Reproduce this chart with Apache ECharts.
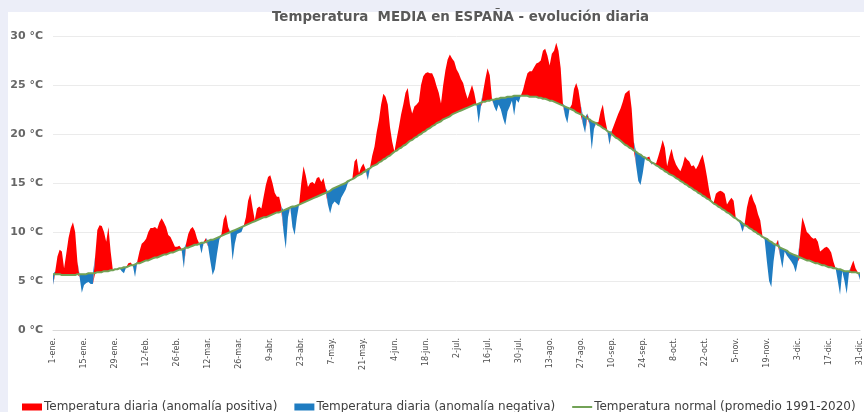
<!DOCTYPE html>
<html>
<head>
<meta charset="utf-8">
<script src="https://cdn.jsdelivr.net/npm/echarts@6/dist/echarts.min.js"></script>
<style>
html,body{margin:0;padding:0;}
#wrap{position:relative;width:864px;height:412px;background:#eceef8;overflow:hidden;}
#panel{position:absolute;left:8px;top:12px;width:856px;height:400px;background:#ffffff;}
#chart{position:absolute;left:0;top:0;width:864px;height:412px;}
</style>
</head>
<body>
<div id="wrap"><div id="panel"></div><div id="chart"></div></div>
<script>
// Month abbreviations and lengths (non-leap year) used for the daily categories
const monthNames = ['ene.','feb.','mar.','abr.','may.','jun.','jul.','ago.','sep.','oct.','nov.','dic.'];
const monthLengths = [31,28,31,30,31,30,31,31,30,31,30,31];
const labelEvery = 14;
const yTicks = [0,5,10,15,20,25,30];

// Daily mean temperature (°C), 1-ene .. 31-dic
const dailyTemp = [
4.6,6.0,7.5,8.2,8.0,6.3,7.8,9.4,10.4,11.0,
10.0,7.0,5.4,3.8,4.6,4.8,4.9,4.7,4.7,7.5,
10.2,10.7,10.6,10.0,9.0,10.5,8.0,6.1,6.2,6.2,
6.3,6.0,5.8,6.4,6.8,6.9,6.6,5.4,7.0,8.0,
8.8,9.0,9.3,10.0,10.4,10.4,10.5,10.3,11.0,11.4,
11.0,10.5,9.7,9.5,9.0,8.5,8.5,8.6,8.3,6.3,
8.8,9.8,10.3,10.5,10.1,9.3,8.8,7.8,9.0,9.4,
8.5,7.0,5.6,6.2,7.8,9.2,9.8,11.3,11.8,10.5,
9.9,7.1,8.8,9.8,9.9,10.0,10.6,11.5,13.2,13.9,
12.5,11.2,12.4,12.6,12.4,13.6,14.8,15.6,15.8,15.0,
14.0,13.6,13.6,12.6,10.0,8.3,11.5,12.6,10.5,9.7,
11.5,12.8,15.0,16.7,15.8,14.6,15.0,15.1,14.9,15.5,
15.6,15.1,15.5,14.5,12.8,11.9,12.8,13.1,12.9,12.7,
13.5,13.9,14.3,15.0,15.2,15.4,17.2,17.5,16.0,16.6,
17.0,16.4,15.3,16.6,17.8,18.7,20.2,21.4,23.0,24.1,
23.8,23.0,20.7,19.2,18.2,19.5,20.7,22.0,23.0,24.2,
24.7,23.0,22.1,22.8,23.0,23.3,25.0,25.9,26.2,26.3,
26.2,26.2,25.7,24.9,24.2,23.1,25.0,26.5,27.6,28.1,
27.7,27.4,26.6,26.2,25.6,25.2,24.3,23.6,24.3,25.0,
24.2,23.0,21.1,22.8,24.3,25.6,26.7,26.0,23.6,22.8,
22.3,23.0,22.5,21.6,20.9,22.3,22.8,23.4,21.9,23.5,
23.2,23.9,24.5,25.4,26.2,26.4,26.4,26.8,27.2,27.3,
27.5,28.5,28.7,28.0,27.0,28.2,28.5,29.3,28.5,26.7,
23.1,21.8,21.1,22.6,23.0,24.6,25.2,24.5,23.0,21.0,
20.1,22.1,21.0,18.4,20.5,21.2,21.2,22.3,23.0,21.5,
20.4,18.9,20.3,20.9,21.5,22.1,22.6,23.3,24.1,24.3,
24.5,22.6,19.2,16.8,15.2,14.8,16.0,17.5,17.6,17.7,
16.9,17.1,17.0,17.7,18.5,19.4,18.6,16.7,17.7,18.5,
17.5,16.9,16.5,16.2,16.8,17.7,17.4,17.2,16.7,16.8,
16.4,16.8,17.4,17.9,16.9,15.6,14.2,13.2,13.0,13.9,
14.1,14.2,14.1,13.9,12.8,13.2,13.5,13.2,11.4,11.2,
10.8,10.0,10.9,12.5,13.5,13.9,13.2,12.7,11.8,11.2,
9.6,9.2,7.0,5.0,4.4,7.0,8.7,9.2,7.5,6.3,
8.0,7.6,7.3,7.0,6.6,5.9,7.0,9.5,11.5,10.8,
10.0,9.8,9.5,9.3,9.4,9.0,8.0,8.2,8.4,8.5,
8.3,7.9,7.0,6.3,5.0,3.6,6.0,5.0,3.7,5.8,
6.5,7.1,6.3,5.9,5.1
];

// Normal daily temperature (promedio 1991-2020), °C
const normalTemp = [
5.7,5.7,5.7,5.7,5.6,5.6,5.6, 5.6,5.6,5.6,5.6,5.7,5.7,5.7,
5.7,5.7,5.8,5.8,5.8,5.8,5.9, 5.9,5.9,6.0,6.0,6.0,6.1,6.1,
6.2,6.2,6.3,6.3,6.4,6.4,6.5, 6.6,6.6,6.7,6.8,6.8,6.9,7.0,
7.1,7.1,7.2,7.3,7.4,7.4,7.5, 7.6,7.7,7.7,7.8,7.9,7.9,8.0,
8.1,8.2,8.2,8.3,8.4,8.4,8.5, 8.6,8.7,8.7,8.8,8.9,8.9,9.0,
9.1,9.2,9.2,9.3,9.4,9.5,9.6, 9.7,9.8,9.9,10.0,10.1,10.2,10.3,
10.4,10.5,10.6,10.7,10.8,10.9,11.0, 11.1,11.2,11.3,11.4,11.5,11.5,11.6,
11.7,11.8,11.9,12.0,12.0,12.1,12.2, 12.3,12.4,12.5,12.6,12.6,12.7,12.8,
12.9,13.0,13.1,13.2,13.3,13.4,13.5, 13.6,13.7,13.8,13.9,14.0,14.1,14.2,
14.4,14.5,14.6,14.7,14.8,14.9,15.0, 15.2,15.3,15.4,15.5,15.7,15.8,15.9,
16.1,16.2,16.4,16.5,16.7,16.8,16.9, 17.1,17.2,17.4,17.5,17.7,17.8,18.0,
18.2,18.3,18.5,18.6,18.8,18.9,19.1, 19.3,19.4,19.6,19.7,19.9,20.0,20.2,
20.3,20.5,20.6,20.8,20.9,21.1,21.2, 21.3,21.5,21.6,21.7,21.8,22.0,22.1,
22.2,22.3,22.4,22.5,22.6,22.7,22.8, 22.9,23.0,23.0,23.1,23.2,23.3,23.3,
23.4,23.4,23.5,23.5,23.6,23.6,23.7, 23.7,23.7,23.8,23.8,23.8,23.9,23.9,
23.9,23.9,23.9,23.9,23.9,23.8,23.8, 23.8,23.8,23.7,23.7,23.6,23.6,23.5,
23.4,23.4,23.3,23.2,23.1,23.0,22.9, 22.8,22.7,22.6,22.5,22.4,22.2,22.1,
22.0,21.9,21.7,21.6,21.5,21.3,21.2, 21.1,20.9,20.8,20.6,20.5,20.3,20.2,
20.0,19.8,19.6,19.5,19.3,19.1,18.9, 18.8,18.6,18.5,18.3,18.2,18.0,17.9,
17.7,17.6,17.4,17.3,17.1,17.0,16.8, 16.7,16.5,16.4,16.2,16.1,15.9,15.8,
15.7,15.5,15.4,15.2,15.1,14.9,14.8, 14.6,14.5,14.3,14.2,14.0,13.9,13.7,
13.6,13.4,13.3,13.1,12.9,12.8,12.6, 12.5,12.3,12.2,12.0,11.9,11.7,11.5,
11.4,11.2,11.1,10.9,10.7,10.6,10.4, 10.3,10.1,10.0,9.8,9.7,9.5,9.4,
9.3,9.1,9.0,8.8,8.7,8.6,8.4, 8.3,8.2,8.1,7.9,7.8,7.7,7.6,
7.5,7.4,7.3,7.2,7.1,7.1,7.0, 6.9,6.8,6.8,6.7,6.6,6.6,6.5,
6.4,6.4,6.3,6.3,6.2,6.2,6.1, 6.0,6.0,6.0,5.9,5.9,5.9,5.8,
5.8
];

const seriesNames = [
  'Temperatura diaria (anomalía positiva)',
  'Temperatura diaria (anomalía negativa)',
  'Temperatura normal (promedio 1991-2020)'
];

// Build categories
const categories = [];
monthLengths.forEach((n, m) => { for (let d = 1; d <= n; d++) categories.push(d + '-' + monthNames[m]); });

// Stacked pieces: base = min(actual, normal), then positive/negative anomaly
const baseVals = dailyTemp.map((t, i) => Math.min(t, normalTemp[i]));
const posVals = dailyTemp.map((t, i) => +Math.max(t - normalTemp[i], 0).toFixed(2));
const negVals = dailyTemp.map((t, i) => +Math.max(normalTemp[i] - t, 0).toFixed(2));

const RED = '#ff0000', BLUE = '#1f7cc1', GREEN = '#72a256';
const chart = echarts.init(document.getElementById('chart'), null, {renderer: 'canvas'});
chart.setOption({
  animation: false,
  backgroundColor: 'transparent',
  title: {
    text: 'Temperatura  MEDIA en ESPAÑA - evolución diaria',
    left: 272, top: 11, padding: 0,
    textStyle: {fontFamily: 'DejaVu Sans', fontWeight: 'bold', fontSize: 13.4, color: '#595959'}
  },
  legend: {
    data: [
      {name: seriesNames[0], icon: 'rect'},
      {name: seriesNames[1], icon: 'rect'},
      {name: seriesNames[2], icon: 'path://M0,0H20V2H0Z'}
    ],
    left: 22, top: 401, padding: 0, itemWidth: 20, itemHeight: 7, itemGap: 17,
    symbolKeepAspect: true,
    textStyle: {fontFamily: 'DejaVu Sans', fontSize: 12, color: '#404040', padding: [0,0,0,-3]}
  },
  grid: {left: 53, right: 2, top: 36, bottom: 82, containLabel: false},
  xAxis: {
    type: 'category', data: categories, boundaryGap: false,
    axisLine: {show: true, lineStyle: {color: '#d9d9d9'}},
    axisTick: {show: false},
    axisLabel: {interval: labelEvery - 1, rotate: 90, margin: 8, fontFamily: 'DejaVu Sans', fontSize: 8, color: '#4d4d4d'},
    splitLine: {show: false}
  },
  yAxis: {
    type: 'value', min: yTicks[0], max: yTicks[yTicks.length - 1], interval: 5,
    axisLine: {show: false}, axisTick: {show: false},
    axisLabel: {formatter: v => v + ' °C', margin: 10, fontFamily: 'DejaVu Sans', fontWeight: 'bold', fontSize: 11, color: '#666666'},
    splitLine: {lineStyle: {color: '#ebebeb', width: 1}}
  },
  series: [
    {name: 'base', type: 'line', stack: 't', data: baseVals, symbol: 'none', silent: true,
     lineStyle: {width: 0, opacity: 0}},
    {name: seriesNames[0], type: 'line', stack: 't', data: posVals, symbol: 'none',
     lineStyle: {width: 0, color: RED}, itemStyle: {color: RED}, areaStyle: {color: RED, opacity: 1}},
    {name: seriesNames[1], type: 'line', stack: 't', data: negVals, symbol: 'none',
     lineStyle: {width: 0, color: BLUE}, itemStyle: {color: BLUE}, areaStyle: {color: BLUE, opacity: 1}},
    {name: seriesNames[2], type: 'line', data: normalTemp, symbol: 'none', z: 5,
     lineStyle: {width: 2, color: GREEN}, itemStyle: {color: GREEN}}
  ]
});
</script>
</body>
</html>
